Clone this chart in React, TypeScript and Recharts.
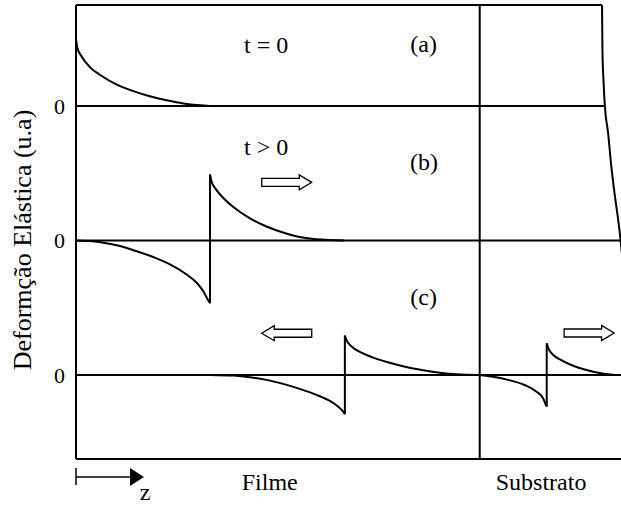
import React from 'react';
import { LineChart, Line, XAxis, YAxis, ReferenceLine, ReferenceDot } from 'recharts';

// depth z: film occupies 0..100, substrate beyond; strain e in arbitrary units
const traceOffset = { a: 12, b: 6, c: 0 };

// (a) t = 0: initial strain profile at the film surface
const initialStrain = [
  { z: 0, e: 3.0 }, { z: 0.3, e: 2.62 }, { z: 1.4, e: 2.2 }, { z: 3.5, e: 1.72 },
  { z: 6.0, e: 1.38 }, { z: 10.1, e: 0.95 }, { z: 14.2, e: 0.66 }, { z: 18.3, e: 0.43 },
  { z: 22.5, e: 0.25 }, { z: 26.6, e: 0.11 }, { z: 30.7, e: 0.03 }, { z: 33.2, e: 0 },
];

// (b) t > 0: pulse travelling into the film
const pulseBLead = [
  { z: 0, e: 0 }, { z: 3.5, e: -0.03 }, { z: 6.8, e: -0.1 }, { z: 10.9, e: -0.25 },
  { z: 15.0, e: -0.48 }, { z: 19.1, e: -0.74 }, { z: 23.3, e: -1.07 }, { z: 27.4, e: -1.52 },
  { z: 29.9, e: -1.89 }, { z: 31.5, e: -2.26 }, { z: 32.7, e: -2.66 }, { z: 33.2, e: -2.8 },
];
const pulseBTrail = [
  { z: 33.2, e: 2.94 }, { z: 33.6, e: 2.62 }, { z: 34.6, e: 2.3 }, { z: 36.5, e: 1.89 },
  { z: 38.9, e: 1.5 }, { z: 43.1, e: 0.98 }, { z: 47.2, e: 0.62 }, { z: 51.3, e: 0.35 },
  { z: 55.4, e: 0.15 }, { z: 59.6, e: 0.05 }, { z: 66.4, e: 0 },
];

// (c) reflected pulse in the film
const pulseCLead = [
  { z: 33.2, e: 0 }, { z: 38.9, e: -0.03 }, { z: 43.1, e: -0.1 }, { z: 47.2, e: -0.22 },
  { z: 51.3, e: -0.4 }, { z: 55.4, e: -0.62 }, { z: 59.6, e: -0.89 }, { z: 62.9, e: -1.16 },
  { z: 64.9, e: -1.41 }, { z: 66.2, e: -1.64 }, { z: 66.6, e: -1.75 },
];
const pulseCTrail = [
  { z: 66.6, e: 1.76 }, { z: 67.0, e: 1.55 }, { z: 68.2, e: 1.28 }, { z: 71.1, e: 0.96 },
  { z: 73.6, e: 0.77 }, { z: 77.7, e: 0.54 }, { z: 81.8, e: 0.35 }, { z: 86.0, e: 0.21 },
  { z: 90.1, e: 0.1 }, { z: 94.2, e: 0.03 }, { z: 100, e: 0 },
];

// (c) transmitted pulse in the substrate
const substrateLead = [
  { z: 100, e: 0 }, { z: 102.9, e: -0.07 }, { z: 107, e: -0.22 }, { z: 111.1, e: -0.45 },
  { z: 114, e: -0.74 }, { z: 115.7, e: -1.04 }, { z: 116.3, e: -1.3 }, { z: 116.6, e: -1.41 },
];
const substrateTrail = [
  { z: 116.6, e: 1.41 }, { z: 117.1, e: 1.15 }, { z: 118.3, e: 0.88 }, { z: 120.2, e: 0.66 },
  { z: 123.0, e: 0.42 }, { z: 126, e: 0.24 }, { z: 130.1, e: 0.07 }, { z: 133.4, e: 0 },
];

// outline of the substrate's far edge (absolute plot units)
const substrateEdge = [
  { z: 130.3, y: 16.5 }, { z: 130.4, y: 14.5 }, { z: 130.7, y: 13.0 }, { z: 131.0, y: 12 },
  { z: 131.8, y: 10.8 }, { z: 132.6, y: 9.3 }, { z: 133.4, y: 8.1 }, { z: 134.2, y: 7.06 },
  { z: 134.7, y: 6.33 }, { z: 135.4, y: 5.1 },
];

const regionTicks = [48, 115.2];
const regionLabels = ['Filme', 'Substrato'];
const zeroTicks = [traceOffset.c, traceOffset.b, traceOffset.a];

const Z_MAX = 135;
const Y_MIN = -3.75;
const Y_MAX = 16.5;
const FONT = 'Liberation Serif, DejaVu Serif';
const INK = '#000';

const shift = (pts: { z: number; e: number }[], off: number) => pts.map((p) => ({ z: p.z, y: p.e + off }));

const jump = (lead: { z: number; e: number }[], trail: { z: number; e: number }[], off: number) => [
  { z: lead[lead.length - 1].z, y: lead[lead.length - 1].e + off },
  { z: trail[0].z, y: trail[0].e + off },
];

const curves = [
  { key: 'a', data: shift(initialStrain, traceOffset.a), type: 'monotone' },
  { key: 'bLead', data: shift(pulseBLead, traceOffset.b), type: 'monotone' },
  { key: 'bJump', data: jump(pulseBLead, pulseBTrail, traceOffset.b), type: 'linear' },
  { key: 'bTrail', data: shift(pulseBTrail, traceOffset.b), type: 'monotone' },
  { key: 'cLead', data: shift(pulseCLead, traceOffset.c), type: 'monotone' },
  { key: 'cJump', data: jump(pulseCLead, pulseCTrail, traceOffset.c), type: 'linear' },
  { key: 'cTrail', data: shift(pulseCTrail, traceOffset.c), type: 'monotone' },
  { key: 'sLead', data: shift(substrateLead, traceOffset.c), type: 'monotone' },
  { key: 'sJump', data: jump(substrateLead, substrateTrail, traceOffset.c), type: 'linear' },
  { key: 'sTrail', data: shift(substrateTrail, traceOffset.c), type: 'monotone' },
  { key: 'edge', data: substrateEdge, type: 'monotone' },
];

const notes = [
  { z: 47.1, y: 14.36, text: 't = 0' },
  { z: 86.1, y: 14.4, text: '(a)' },
  { z: 47.1, y: 9.81, text: 't > 0' },
  { z: 86.2, y: 9.14, text: '(b)' },
  { z: 86.1, y: 3.12, text: '(c)' },
  { z: 17.1, y: -5.6, text: 'z' },
];

// hollow arrows showing propagation direction
const arrows = [
  { z: 52.2, y: 8.59, dir: 1 },
  { z: 52.2, y: 1.86, dir: -1 },
  { z: 127.1, y: 1.87, dir: 1 },
];

const hollowArrow = (cx: number, cy: number, dir: number) => {
  const half = 25;
  const shaft = 37.5;
  const pts = [
    [-half, -4], [-half + shaft, -4], [-half + shaft, -7.5], [half, 0],
    [-half + shaft, 7.5], [-half + shaft, 4], [-half, 4],
  ]
    .map(([dx, dy]) => `${cx + dir * dx},${cy + dy}`)
    .join(' ');
  return <polygon points={pts} fill="#fff" stroke={INK} strokeWidth={1.3} />;
};

const depthArrow = (cx: number, cy: number) => (
  <g>
    <line x1={cx} y1={cy - 9} x2={cx} y2={cy + 8} stroke={INK} strokeWidth={1.5} />
    <line x1={cx} y1={cy} x2={cx + 55} y2={cy} stroke={INK} strokeWidth={1.5} />
    <polygon points={`${cx + 54},${cy - 9} ${cx + 68},${cy} ${cx + 54},${cy + 9}`} fill={INK} />
  </g>
);

const textStyle = { fontFamily: FONT, fontSize: 24, fill: INK };

export default function App() {
  return (
    <div style={{ position: 'absolute', left: 0, top: 0, width: 621, height: 506, background: '#fff', overflow: 'hidden' }}>
      <LineChart width={621} height={506} margin={{ top: 5, right: 0, bottom: 7, left: 0 }} style={{ fontFamily: FONT }}>
        <XAxis
          type="number"
          dataKey="z"
          domain={[0, Z_MAX]}
          allowDataOverflow
          ticks={regionTicks}
          tickFormatter={(v: number) => regionLabels[regionTicks.indexOf(v)] ?? ''}
          tickLine={false}
          tickSize={0}
          tickMargin={14}
          height={40}
          axisLine={{ stroke: INK, strokeWidth: 2 }}
          tick={{ fill: INK, fontSize: 24, fontFamily: FONT, style: { fontFamily: FONT } }}
        />
        <YAxis
          type="number"
          dataKey="y"
          domain={[Y_MIN, Y_MAX]}
          allowDataOverflow
          ticks={zeroTicks}
          tickFormatter={() => '0'}
          tickLine={false}
          tickSize={0}
          tickMargin={11}
          width={76}
          axisLine={{ stroke: INK, strokeWidth: 2 }}
          tick={{ fill: INK, fontSize: 22, fontFamily: FONT, style: { fontFamily: FONT } }}
          label={{
            content: (props: any) => {
              const vb = props.viewBox || {};
              const x = (vb.x ?? 0) + 31;
              const y = (vb.y ?? 0) + (vb.height ?? 0) / 2 + 8;
              return (
                <text
                  x={x}
                  y={y}
                  transform={`rotate(-90 ${x} ${y})`}
                  textAnchor="middle"
                  style={{ ...textStyle, fontSize: 26 }}
                >
                  Deformção Elástica (u.a)
                </text>
              );
            },
          }}
        />

        {/* frame top, divider between film and substrate, zero lines */}
        <ReferenceLine
          segment={[{ x: 0, y: Y_MAX }, { x: substrateEdge[0].z, y: Y_MAX }]}
          stroke={INK}
          strokeWidth={2}
        />
        <ReferenceLine x={100} stroke={INK} strokeWidth={2} />
        <ReferenceLine
          segment={[
            { x: 0, y: traceOffset.a },
            { x: substrateEdge.find((p) => p.y === traceOffset.a)!.z, y: traceOffset.a },
          ]}
          stroke={INK}
          strokeWidth={2}
        />
        <ReferenceLine y={traceOffset.b} stroke={INK} strokeWidth={2} />
        <ReferenceLine y={traceOffset.c} stroke={INK} strokeWidth={2} />

        {curves.map((c) => (
          <Line
            key={c.key}
            data={c.data}
            dataKey="y"
            type={c.type as any}
            stroke={INK}
            strokeWidth={2}
            dot={false}
            activeDot={false}
            isAnimationActive={false}
          />
        ))}

        {arrows.map((a, i) => (
          <ReferenceDot
            key={`arrow-${i}`}
            x={a.z}
            y={a.y}
            r={0}
            ifOverflow="visible"
            shape={(p: any) => hollowArrow(p.cx, p.cy, a.dir)}
          />
        ))}

        <ReferenceDot x={0} y={-4.55} r={0} ifOverflow="visible" shape={(p: any) => depthArrow(p.cx, p.cy)} />

        {notes.map((n) => (
          <ReferenceDot
            key={n.text}
            x={n.z}
            y={n.y}
            r={0}
            ifOverflow="visible"
            shape={(p: any) => (
              <text x={p.cx} y={p.cy} textAnchor="middle" style={textStyle}>
                {n.text}
              </text>
            )}
          />
        ))}
      </LineChart>
    </div>
  );
}
